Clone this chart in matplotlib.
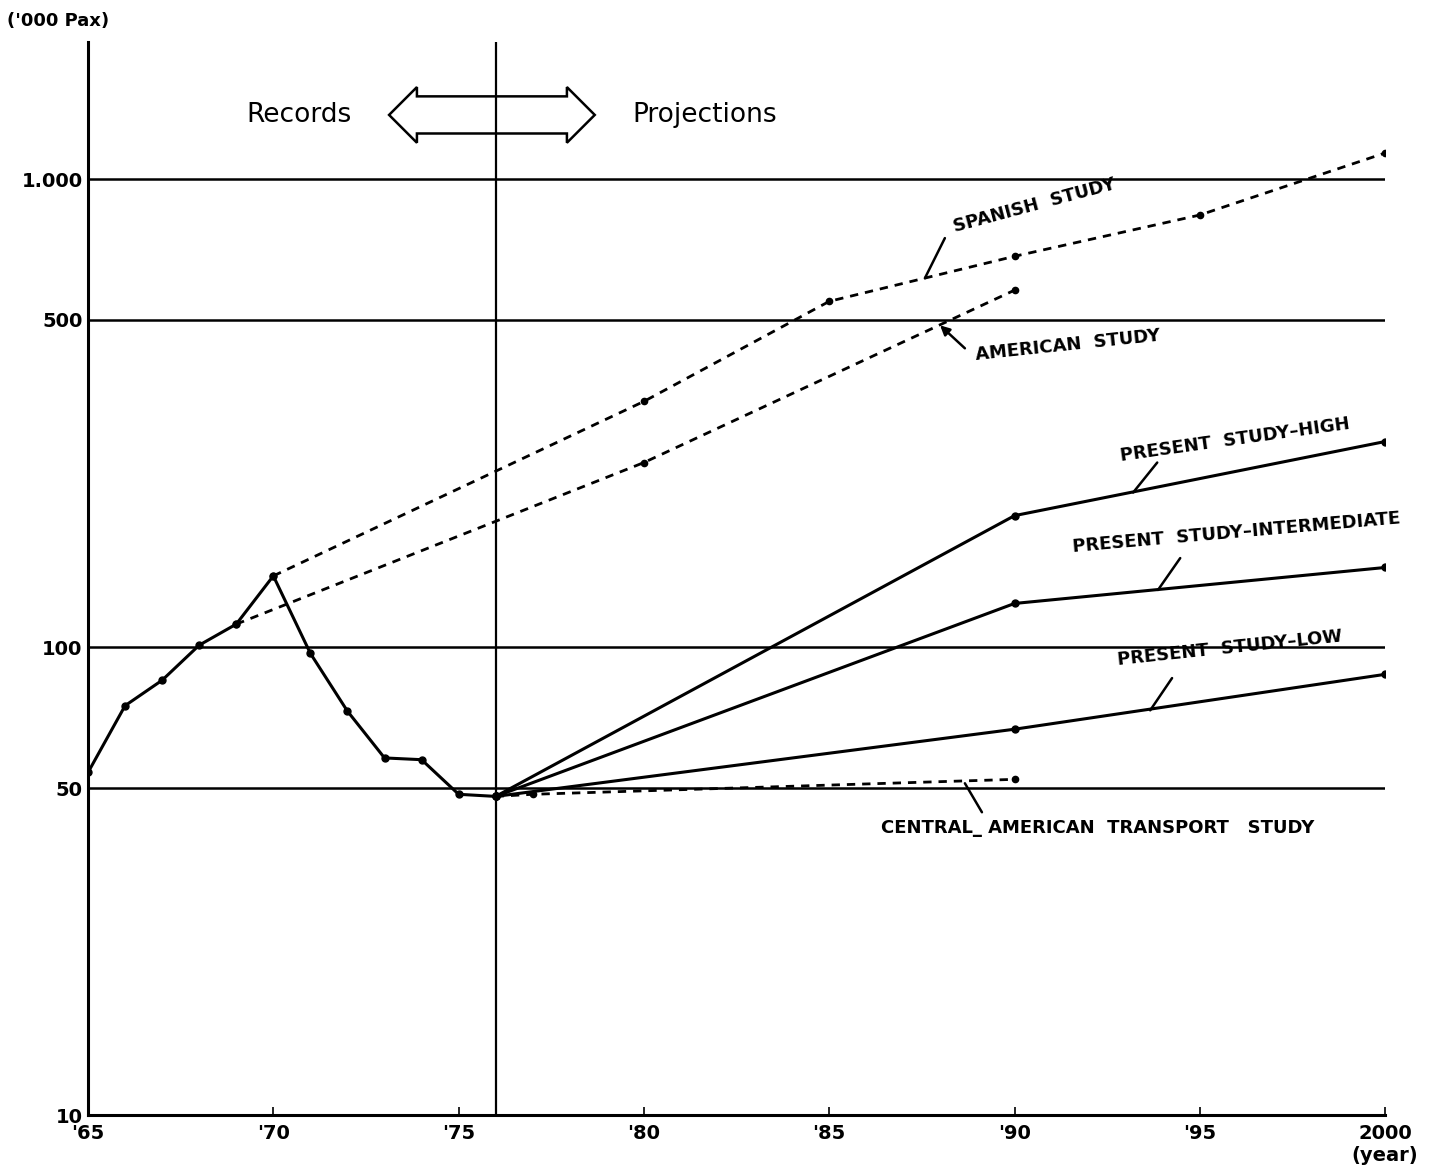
import matplotlib.pyplot as plt

# records
rec_years = [1965, 1966, 1967, 1968, 1969, 1970, 1971, 1972, 1973, 1974, 1975, 1976]
rec_pax = [54, 75, 85, 101, 112, 142, 97, 73, 58, 57.5, 48.5, 48]

# projections
spanish_years = [1970, 1980, 1985, 1990, 1995, 2000]
spanish_pax = [142, 335, 548, 684, 838, 1137]
american_years = [1969, 1980, 1990]
american_pax = [112, 248, 579]
central_years = [1976, 1977, 1990]
central_pax = [48, 48.5, 52.2]
high_years = [1976, 1990, 2000]
high_pax = [48, 191, 275]
inter_years = [1976, 1990, 2000]
inter_pax = [48, 124, 148]
low_years = [1976, 1990, 2000]
low_pax = [48, 66.8, 87.5]

grid_vals = [50, 100, 500, 1000]
ytick_vals = [10, 50, 100, 500, 1000]
ytick_labels = ['10', '50', '100', '500', '1.000']
xtick_vals = [1965, 1970, 1975, 1980, 1985, 1990, 1995, 2000]
xtick_labels = ["'65", "'70", "'75", "'80", "'85", "'90", "'95", "2000\n(year)"]

fig = plt.figure(figsize=(14.55, 11.74), dpi=100)
ax = fig.add_axes([0.0605, 0.050, 0.8915, 0.914])
ax.set_yscale('log')
ax.set_xlim(1965, 2000)
ax.set_ylim(10, 1960)

for v in grid_vals:
    ax.axhline(v, color='black', lw=1.8, zorder=1)
ax.axvline(1976, color='black', lw=1.6, zorder=1)

solid = dict(color='black', lw=2.2, marker='o', ms=5, zorder=3)
dashed = dict(color='black', lw=2.0, ls=(0, (3, 2.5)), marker='o', ms=4.5, zorder=3)

ax.plot(rec_years, rec_pax, **solid)
ax.plot(high_years, high_pax, **solid)
ax.plot(inter_years, inter_pax, **solid)
ax.plot(low_years, low_pax, **solid)
ax.plot(spanish_years, spanish_pax, **dashed)
ax.plot(american_years, american_pax, **dashed)
ax.plot(central_years, central_pax, **dashed)

ax.spines['top'].set_visible(False)
ax.spines['right'].set_visible(False)
ax.spines['left'].set_linewidth(2.2)
ax.spines['bottom'].set_linewidth(2.2)

ax.set_yticks(ytick_vals)
ax.set_yticklabels(ytick_labels)
ax.yaxis.set_minor_locator(plt.NullLocator())
ax.set_xticks(xtick_vals)
ax.set_xticklabels(xtick_labels)
ax.tick_params(axis='x', direction='in', length=6, width=1.2, labelsize=14, pad=6)
ax.tick_params(axis='y', length=0, labelsize=14, pad=4)
for lab in ax.get_xticklabels() + ax.get_yticklabels():
    lab.set_fontweight('bold')

fig.text(0.005, 0.982, "('000 Pax)", fontsize=13, fontweight='bold', va='center', ha='left')

# records / projections arrow
ax.text(1970.7, 1371, 'Records', fontsize=19, ha='center', va='center')
ax.text(1981.65, 1371, 'Projections', fontsize=19, ha='center', va='center')
ax.text(1975.93, 1371, ' ' * 26, fontsize=14.5, ha='center', va='center',
        bbox=dict(boxstyle='darrow,pad=0.45', fc='none', ec='black', lw=1.8))

lab = dict(fontsize=13, fontweight='bold', ha='center', va='center')


def leader(p0, p1, head=False):
    style = '-|>' if head else '-'
    ax.annotate('', xy=p0, xytext=p1,
                arrowprops=dict(arrowstyle=style, color='black', lw=1.8,
                                shrinkA=0, shrinkB=0, mutation_scale=14))


ax.text(1990.55, 879, 'SPANISH  STUDY', rotation=15, **lab)
leader((1987.58, 614), (1988.12, 748))

ax.text(1991.44, 442, 'AMERICAN  STUDY', rotation=6, **lab)
leader((1987.99, 487), (1988.66, 435), head=True)

ax.text(1995.95, 277, 'PRESENT  STUDY\u2013HIGH', rotation=8, **lab)
leader((1993.2, 214), (1993.85, 248))

ax.text(1996.0, 176, 'PRESENT  STUDY\u2013INTERMEDIATE', rotation=5, **lab)
leader((1993.87, 132.5), (1994.47, 155))

ax.text(1995.8, 99.5, 'PRESENT  STUDY\u2013LOW', rotation=6, **lab)
leader((1993.66, 73.3), (1994.25, 85.9))

ax.text(1992.25, 41.0, 'CENTRAL_ AMERICAN  TRANSPORT   STUDY', **lab)
leader((1988.66, 51.2), (1989.12, 44.4))

fig.savefig('out.png', dpi=100)
